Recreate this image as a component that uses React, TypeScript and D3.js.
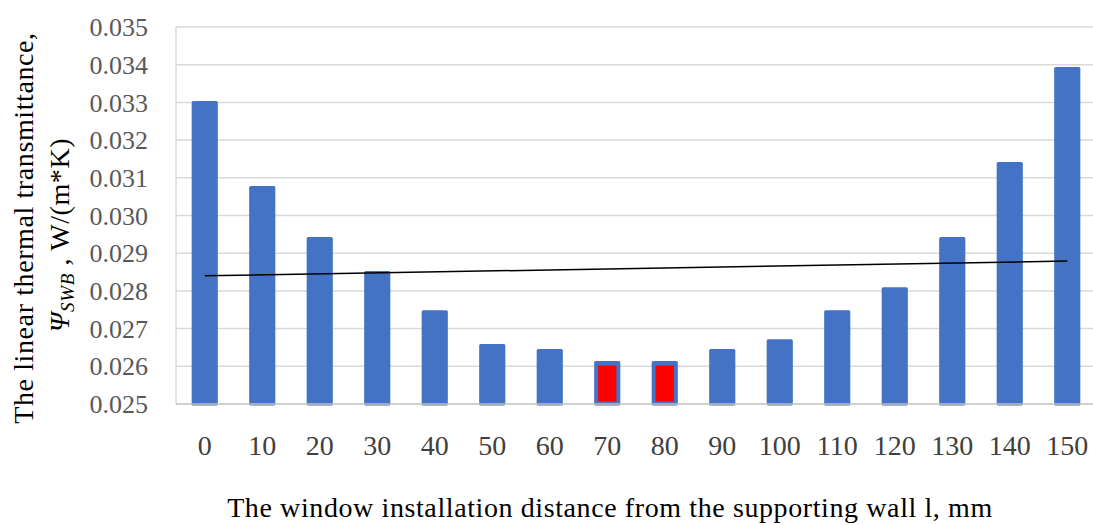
import React from "react";
import * as d3 from "d3";

const categories = ["0","10","20","30","40","50","60","70","80","90","100","110","120","130","140","150"];
const values = [0.03304,0.03078,0.02943,0.02853,0.02749,0.02659,0.02646,0.02614,0.02614,0.02646,0.02672,0.02749,0.02810,0.02943,0.03142,0.03394];
const highlighted = ["70","80"];
const trendEnds = [0.02840, 0.02879];
const yTicks = [0.025,0.026,0.027,0.028,0.029,0.030,0.031,0.032,0.033,0.034,0.035];

const W = 1093, H = 525;
const left = 176, right = 1096, top = 27, bottom = 404;
const FONT = "'Liberation Serif', 'Times New Roman', serif";

export default function App() {
  const x = d3.scaleBand<string>().domain(categories).range([left, right]).paddingInner(0.545).paddingOuter(0.2725);
  const y = d3.scaleLinear().domain([0.025, 0.035]).range([bottom, top]);
  const bw = x.bandwidth();
  const cx = (c: string) => (x(c) as number) + bw / 2;
  const trendLine = d3.line<[number, number]>().x(d => d[0]).y(d => d[1]);
  const trendPts: [number, number][] = [
    [cx(categories[0]), y(trendEnds[0])],
    [cx(categories[categories.length - 1]), y(trendEnds[1])],
  ];
  return (
    <svg width={W} height={H} style={{ position: "absolute", left: 0, top: 0, background: "#fff" }} fontFamily={FONT}>
      {yTicks.slice(1).map(t => (
        <line key={t} x1={left} x2={right} y1={y(t)} y2={y(t)} stroke="#d9d9d9" strokeWidth={1.5} />
      ))}
      <line x1={left} x2={left} y1={top} y2={bottom} stroke="#d9d9d9" strokeWidth={1.5} />
      {categories.map((c, i) => {
        const bx = x(c) as number;
        const by = y(values[i]);
        const hl = highlighted.includes(c);
        return (
          <g key={c}>
            <rect x={bx} y={by} width={bw} height={bottom + 1.5 - by} fill="#4472C4" rx={1.5} />
            {hl && <rect x={bx + 4} y={by + 4.5} width={bw - 8} height={bottom - 2.5 - by - 4.5} fill="#FF0000" />}
          </g>
        );
      })}
      <line x1={left} x2={right} y1={bottom} y2={bottom} stroke="#bfbfbf" strokeWidth={1.5} />
      <path d={trendLine(trendPts) as string} stroke="#000" strokeWidth={1.5} fill="none" />
      {yTicks.map(t => (
        <text key={t} x={148} y={y(t)} dy="0.35em" textAnchor="end" fontSize={26} fill="#595959">{d3.format(".3f")(t)}</text>
      ))}
      {categories.map(c => (
        <text key={c} x={cx(c)} y={455} textAnchor="middle" fontSize={28} fill="#404040">{c}</text>
      ))}
      <text x={610} y={517} textAnchor="middle" fontSize={28} letterSpacing={0.6} fill="#000">The window installation distance from the supporting wall l, mm</text>
      <g transform="translate(33,228) rotate(-90)">
        <text x={0} y={0} textAnchor="middle" fontSize={28} letterSpacing={0.6} fill="#000">The linear thermal transmittance,</text>
      </g>
      <g transform="translate(69,235) rotate(-90)">
        <text x={0} y={0} textAnchor="middle" fontSize={28} letterSpacing={0.6} fill="#000">
          <tspan fontStyle="italic">Ψ</tspan>
          <tspan fontStyle="italic" fontSize={19} dy={5}>SWB</tspan>
          <tspan dy={-5}> , W/(m*K)</tspan>
        </text>
      </g>
    </svg>
  );
}
